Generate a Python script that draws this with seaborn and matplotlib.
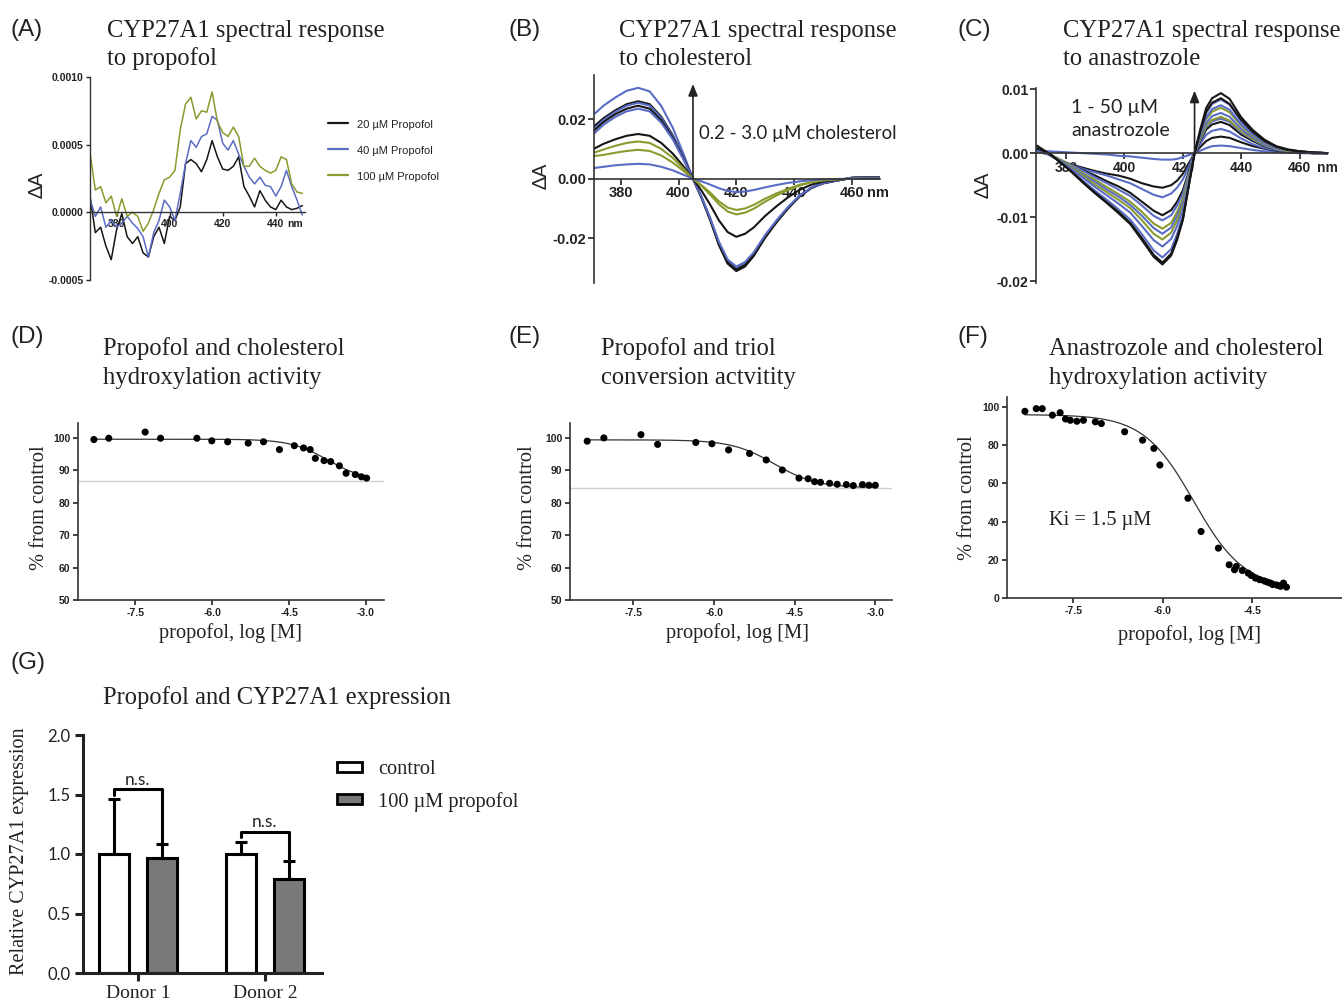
import numpy as np
import pandas as pd
import matplotlib
matplotlib.use("Agg")
import matplotlib.pyplot as plt
from matplotlib.patches import Patch
import seaborn as sns

sns.set_style("ticks")
plt.rcParams["font.family"] = ["Liberation Sans", "DejaVu Sans"]

W, H = 1342, 1006
BLACK = "#161616"
BLUE = "#5a6cc4"
OLIVE = "#8b9a2f"
BAR_GRAY = "#76797c"
TXT = "#222222"
SERIF = ["Liberation Serif", "DejaVu Serif"]
SANS = ["Liberation Sans", "DejaVu Sans"]
HUMAN = ["Lato", "DejaVu Sans"]

# ------------------------------------------------------------------ data
# (A) propofol difference spectra, dA in units of 1e-4
wl_a = list(range(370, 451, 2))
a_labels = ["20 \u00b5M Propofol", "40 \u00b5M Propofol", "100 \u00b5M Propofol"]
a_20 = [1.2, -1.5, -1.1, -2.5, -3.5, -1.3, -0.1, -1.8, -2.3, -1.8, -3.0, -3.3, -1.8, -1.1,
        -2.3, -0.3, -0.6, 0.4, 3.6, 3.9, 3.6, 3.0, 3.9, 5.3, 4.1, 3.2, 3.1, 3.4, 4.1, 1.9,
        1.2, 0.4, 1.6, 0.9, 0.4, 0.2, 0.9, 0.4, 0.2, 0.3, 0.5]
a_40 = [1.0, -0.3, 0.4, -1.1, -0.6, -1.1, -0.8, -0.3, -0.8, -1.2, -1.8, -3.3, -1.5, -0.6,
        0.9, 0.4, -0.6, 1.4, 3.6, 5.3, 4.8, 5.6, 5.8, 7.1, 6.8, 5.1, 4.6, 5.3, 4.3, 3.4,
        2.6, 2.1, 2.6, 2.0, 1.9, 1.2, 1.9, 3.1, 1.9, 0.9, -0.2]
a_100 = [4.4, 1.65, 1.9, 0.7, 1.2, -0.3, 1.0, -0.3, 0.0, -0.3, -1.4, -0.8, 0.2, 1.4,
         2.4, 2.6, 3.1, 6.1, 8.0, 8.5, 6.9, 7.5, 7.4, 8.9, 6.7, 5.9, 5.6, 6.3, 5.6, 3.4,
         3.4, 4.0, 3.4, 3.1, 2.9, 3.1, 4.1, 3.9, 2.1, 1.5, 1.4]

# (B) cholesterol titration spectra
wl_b = [370, 374, 378, 382, 386, 390, 394, 398, 402, 405, 408, 411, 414, 417, 420, 423,
        426, 430, 434, 438, 442, 446, 450, 455, 460, 465, 470]
b1 = [0.0210, 0.0245, 0.0272, 0.0295, 0.0305, 0.0293, 0.0244, 0.0171, 0.0076, 0.0, -0.0064, -0.0137, -0.0220, -0.0281, -0.0305, -0.0290, -0.0256, -0.0195, -0.0143, -0.0098, -0.0058, -0.0031, -0.0015, -0.0006, 0.0003, 0.0005, 0.0005]
b2 = [0.0170, 0.0203, 0.0229, 0.0250, 0.0260, 0.0250, 0.0208, 0.0146, 0.0065, 0.0, -0.0065, -0.0140, -0.0223, -0.0285, -0.0310, -0.0295, -0.0260, -0.0198, -0.0146, -0.0099, -0.0059, -0.0031, -0.0016, -0.0006, 0.0003, 0.0005, 0.0005]
b3 = [0.0160, 0.0197, 0.0224, 0.0245, 0.0255, 0.0245, 0.0204, 0.0143, 0.0064, 0.0, -0.0063, -0.0135, -0.0216, -0.0276, -0.0300, -0.0285, -0.0252, -0.0192, -0.0141, -0.0096, -0.0057, -0.0030, -0.0015, -0.0006, 0.0003, 0.0004, 0.0004]
b4 = [0.0155, 0.0190, 0.0216, 0.0235, 0.0245, 0.0235, 0.0196, 0.0137, 0.0061, 0.0, -0.0064, -0.0137, -0.0220, -0.0281, -0.0305, -0.0290, -0.0256, -0.0195, -0.0143, -0.0098, -0.0058, -0.0031, -0.0015, -0.0006, 0.0003, 0.0005, 0.0005]
b5 = [0.0145, 0.0181, 0.0207, 0.0226, 0.0235, 0.0226, 0.0188, 0.0132, 0.0059, 0.0, -0.0062, -0.0133, -0.0212, -0.0271, -0.0295, -0.0280, -0.0248, -0.0189, -0.0139, -0.0094, -0.0056, -0.0030, -0.0015, -0.0006, 0.0003, 0.0004, 0.0004]
b6 = [0.0097, 0.0117, 0.0132, 0.0144, 0.0150, 0.0144, 0.0120, 0.0084, 0.0038, 0.0, -0.0041, -0.0088, -0.0140, -0.0179, -0.0195, -0.0185, -0.0164, -0.0125, -0.0092, -0.0062, -0.0037, -0.0020, -0.0010, -0.0004, 0.0001, 0.0002, 0.0002]
b7 = [0.0085, 0.0098, 0.0110, 0.0120, 0.0125, 0.0120, 0.0100, 0.0070, 0.0031, 0.0, -0.0025, -0.0054, -0.0086, -0.0110, -0.0120, -0.0114, -0.0101, -0.0077, -0.0056, -0.0038, -0.0023, -0.0012, -0.0006, -0.0002, 0.0, 0.0, 0.0]
b8 = [0.0075, 0.0080, 0.0087, 0.0093, 0.0097, 0.0093, 0.0078, 0.0054, 0.0024, 0.0, -0.0022, -0.0047, -0.0076, -0.0097, -0.0105, -0.0100, -0.0088, -0.0067, -0.0049, -0.0034, -0.0020, -0.0011, -0.0005, -0.0002, 0.0, 0.0, 0.0]
b9 = [0.0035, 0.0040, 0.0045, 0.0048, 0.0050, 0.0048, 0.0040, 0.0028, 0.0012, 0.0, -0.0009, -0.0020, -0.0032, -0.0041, -0.0045, -0.0043, -0.0038, -0.0029, -0.0021, -0.0014, -0.0009, -0.0005, -0.0002, -0.0001, 0.0, 0.0, 0.0]
b_curves = [b1, b2, b3, b4, b5, b6, b7, b8, b9]
b_colors = [BLUE, BLACK, BLUE, BLACK, BLUE, BLACK, OLIVE, OLIVE, BLUE]

# (C) anastrozole titration spectra
wl_c = [370, 374, 378, 382, 386, 390, 394, 398, 402, 406, 410, 413, 416, 418, 420, 422,
        424, 426, 428, 430, 433, 436, 440, 444, 448, 452, 456, 460, 465, 470]
c1 = [0.0004, 0.0003, 0.0002, 0.0001, 0.0, -0.0001, -0.0002, -0.0004, -0.0005, -0.0007, -0.0009, -0.0010, -0.0010, -0.0009, -0.0006, -0.0003, 0.0, 0.0004, 0.0008, 0.0011, 0.0012, 0.0011, 0.0008, 0.0005, 0.0003, 0.0002, 0.0001, 0.0, 0.0, 0.0]
c2 = [0.0003, -0.0002, -0.0012, -0.0018, -0.0023, -0.0028, -0.0032, -0.0035, -0.0040, -0.0047, -0.0052, -0.0054, -0.0050, -0.0043, -0.0032, -0.0016, 0.0, 0.0010, 0.0019, 0.0024, 0.0026, 0.0024, 0.0017, 0.0011, 0.0007, 0.0004, 0.0002, 0.0001, 0.0, 0.0]
c3 = [0.0003, -0.0002, -0.0012, -0.0019, -0.0025, -0.0030, -0.0035, -0.0041, -0.0047, -0.0056, -0.0065, -0.0069, -0.0063, -0.0054, -0.0041, -0.0021, 0.0, 0.0015, 0.0029, 0.0035, 0.0038, 0.0034, 0.0023, 0.0014, 0.0008, 0.0005, 0.0002, 0.0001, 0.0, 0.0]
c4 = [0.0005, 0.0, -0.0011, -0.0019, -0.0027, -0.0035, -0.0044, -0.0052, -0.0062, -0.0076, -0.0090, -0.0097, -0.0089, -0.0076, -0.0058, -0.0029, 0.0, 0.0020, 0.0037, 0.0045, 0.0049, 0.0044, 0.0029, 0.0019, 0.0011, 0.0006, 0.0003, 0.0001, 0.0, 0.0]
c5 = [0.0003, -0.0001, -0.0010, -0.0019, -0.0028, -0.0038, -0.0047, -0.0057, -0.0067, -0.0082, -0.0098, -0.0105, -0.0097, -0.0082, -0.0063, -0.0032, 0.0, 0.0022, 0.0041, 0.0050, 0.0054, 0.0049, 0.0032, 0.0021, 0.0012, 0.0006, 0.0003, 0.0002, 0.0001, 0.0]
c6 = [0.0003, -0.0001, -0.0010, -0.0020, -0.0032, -0.0042, -0.0053, -0.0064, -0.0076, -0.0092, -0.0110, -0.0118, -0.0109, -0.0092, -0.0071, -0.0035, 0.0, 0.0023, 0.0043, 0.0052, 0.0057, 0.0051, 0.0034, 0.0022, 0.0013, 0.0007, 0.0003, 0.0002, 0.0001, 0.0]
c7 = [0.0003, -0.0001, -0.0011, -0.0021, -0.0034, -0.0045, -0.0057, -0.0068, -0.0081, -0.0098, -0.0117, -0.0126, -0.0116, -0.0098, -0.0076, -0.0038, 0.0, 0.0025, 0.0047, 0.0058, 0.0063, 0.0057, 0.0038, 0.0024, 0.0014, 0.0008, 0.0004, 0.0002, 0.0001, 0.0]
c8 = [0.0003, -0.0001, -0.0011, -0.0023, -0.0036, -0.0049, -0.0061, -0.0073, -0.0086, -0.0105, -0.0126, -0.0135, -0.0124, -0.0105, -0.0081, -0.0041, 0.0, 0.0028, 0.0053, 0.0065, 0.0071, 0.0064, 0.0043, 0.0027, 0.0016, 0.0009, 0.0004, 0.0002, 0.0001, 0.0]
c9 = [0.0003, -0.0001, -0.0012, -0.0025, -0.0039, -0.0053, -0.0066, -0.0079, -0.0093, -0.0114, -0.0136, -0.0146, -0.0134, -0.0114, -0.0088, -0.0044, 0.0, 0.0030, 0.0056, 0.0069, 0.0075, 0.0068, 0.0045, 0.0029, 0.0017, 0.0009, 0.0005, 0.0002, 0.0001, 0.0]
c10 = [0.0003, -0.0001, -0.0013, -0.0028, -0.0044, -0.0059, -0.0073, -0.0088, -0.0104, -0.0127, -0.0152, -0.0163, -0.0150, -0.0127, -0.0098, -0.0049, 0.0, 0.0034, 0.0063, 0.0077, 0.0084, 0.0076, 0.0050, 0.0032, 0.0018, 0.0010, 0.0005, 0.0003, 0.0001, 0.0]
c11 = [0.0008, 0.0, -0.0014, -0.0029, -0.0046, -0.0062, -0.0077, -0.0092, -0.0109, -0.0133, -0.0159, -0.0171, -0.0157, -0.0133, -0.0103, -0.0051, 0.0, 0.0034, 0.0065, 0.0079, 0.0086, 0.0077, 0.0052, 0.0033, 0.0019, 0.0010, 0.0005, 0.0003, 0.0001, 0.0]
c12 = [0.0012, 0.0, -0.0014, -0.0030, -0.0047, -0.0063, -0.0078, -0.0094, -0.0111, -0.0136, -0.0162, -0.0174, -0.0160, -0.0136, -0.0104, -0.0052, 0.0, 0.0038, 0.0071, 0.0086, 0.0094, 0.0085, 0.0056, 0.0036, 0.0021, 0.0011, 0.0006, 0.0003, 0.0001, 0.0]
c_curves = [c1, c2, c3, c4, c5, c6, c7, c8, c9, c10, c11, c12]
c_colors = [BLUE, BLACK, BLUE, BLACK, BLUE, OLIVE, BLUE, OLIVE, BLUE, BLUE, BLACK, BLACK]

# (D) propofol vs cholesterol hydroxylation
d_x = [-8.31, -8.02, -7.31, -7.01, -6.30, -6.01, -5.70, -5.30, -5.00, -4.69, -4.40,
       -4.22, -4.09, -3.99, -3.82, -3.69, -3.52, -3.39, -3.21, -3.09, -2.99]
d_y = [99.5, 99.9, 101.8, 99.9, 99.9, 99.1, 98.8, 98.4, 98.8, 96.4, 97.6,
       96.9, 96.4, 93.7, 93.0, 92.7, 91.4, 89.1, 88.7, 88.0, 87.6]
d_fit = [99.6, 86.8, -3.75, 1.2]          # top, bottom, logIC50, Hill slope

# (E) propofol vs triol conversion
e_x = [-8.36, -8.05, -7.36, -7.05, -6.34, -6.04, -5.73, -5.34, -5.03, -4.73, -4.42,
       -4.25, -4.13, -4.02, -3.85, -3.71, -3.54, -3.41, -3.24, -3.12, -3.00]
e_y = [99.0, 100.0, 101.0, 98.0, 98.6, 98.2, 96.3, 95.2, 93.2, 90.1, 87.6,
       87.4, 86.5, 86.3, 86.0, 85.7, 85.6, 85.3, 85.6, 85.4, 85.4]
e_fit = [99.4, 84.6, -4.88, 1.1]

# (F) anastrozole vs cholesterol hydroxylation
f_x = [-8.31, -8.12, -8.02, -7.85, -7.72, -7.63, -7.55, -7.44, -7.33, -7.13, -7.03,
       -6.64, -6.34, -6.15, -6.05, -5.58, -5.36, -5.07, -4.89, -4.80, -4.77, -4.67,
       -4.57, -4.52, -4.45, -4.38, -4.30, -4.25, -4.20, -4.16, -4.08, -4.03, -3.98, -3.93]
f_y = [97.7, 99.1, 99.1, 95.7, 97.0, 93.7, 93.0, 92.5, 93.0, 92.2, 91.3,
       87.0, 82.6, 78.3, 69.6, 52.2, 34.8, 26.1, 17.4, 14.8, 16.5, 14.4,
       13.0, 11.8, 10.4, 9.6, 8.9, 8.3, 7.8, 7.0, 6.6, 6.1, 7.8, 5.7]
f_fit = [96.0, 5.0, -5.48, 1.03]

# (G) CYP27A1 expression
g_donors = ["Donor 1", "Donor 2"]
g_treat = ["control", "100 \u00b5M propofol"]
g_ctrl = [1.0, 1.0]
g_prop = [0.97, 0.79]
g_ctrl_err = [0.46, 0.10]
g_prop_err = [0.11, 0.15]

# ------------------------------------------------------------------ figure
fig = plt.figure(figsize=(W / 100, H / 100), dpi=100)


def rect(l, t, r, b):
    return [l / W, 1 - b / H, (r - l) / W, (b - t) / H]


def ftext(x, y, s, **kw):
    kw.setdefault("color", TXT)
    return fig.text(x / W, 1 - y / H, s, **kw)


def hill(x, p):
    top, bottom, logc, h = p
    return bottom + (top - bottom) / (1 + 10 ** ((x - logc) * h))


def spectral_style(ax, xticks, xlabels, yticks, ylabels, fs, lw, tlen, nm_x):
    for s in ("top", "right"):
        ax.spines[s].set_visible(False)
    ax.spines["bottom"].set_position(("data", 0))
    for s in ("left", "bottom"):
        ax.spines[s].set_linewidth(lw)
        ax.spines[s].set_color("#333333")
    ax.set_xticks(xticks)
    ax.set_xticklabels(xlabels, fontweight="bold", fontsize=fs, family=SANS)
    ax.set_yticks(yticks)
    ax.set_yticklabels(ylabels, fontweight="bold", fontsize=fs, family=SANS)
    ax.tick_params(direction="out", length=tlen, width=lw, pad=1.5, colors=TXT)
    ax.set_axisbelow(True)
    ax.set_xlabel("")
    ax.set_ylabel("")
    ax.annotate("nm", xy=(nm_x, 0), xycoords="data", xytext=(0, -(tlen + 1.5)),
                textcoords="offset points", ha="left", va="top", fontsize=fs,
                fontweight="bold", family=SANS, color=TXT, zorder=0.5)


def dose_style(ax, xlim, ylim, yticks):
    sns.despine(ax=ax)
    ax.set_xlim(*xlim)
    ax.set_ylim(*ylim)
    ax.set_xticks([-7.5, -6.0, -4.5, -3.0])
    ax.set_xticklabels(["-7.5", "-6.0", "-4.5", "-3.0"], fontweight="bold", fontsize=7.5)
    ax.set_yticks(yticks)
    ax.set_yticklabels([str(v) for v in yticks], fontweight="bold", fontsize=7.5)
    ax.tick_params(direction="out", length=3.5, width=1.2, pad=2, colors=TXT)
    for s in ("left", "bottom"):
        ax.spines[s].set_linewidth(1.2)
        ax.spines[s].set_color("#333333")
    ax.set_xlabel("")
    ax.set_ylabel("")


def spectra_frame(wl, curves):
    rows = []
    for i, cv in enumerate(curves):
        for w, v in zip(wl, cv):
            rows.append({"wl": w, "dA": v, "curve": i})
    return pd.DataFrame(rows)


# ---------------- (A)
axA = fig.add_axes(rect(90, 77, 305, 280))
df_a = pd.DataFrame({
    "wl": wl_a * 3,
    "dA": np.array(a_20 + a_40 + a_100) * 1e-4,
    "series": [a_labels[0]] * len(wl_a) + [a_labels[1]] * len(wl_a) + [a_labels[2]] * len(wl_a),
})
sns.lineplot(data=df_a, x="wl", y="dA", hue="series", hue_order=a_labels,
             palette=[BLACK, BLUE, OLIVE], estimator=None, lw=1.1, ax=axA)
axA.set_xlim(370, 451)
axA.set_ylim(-0.0005, 0.0010)
spectral_style(axA, [380, 400, 420, 440], ["380", "400", "420", "440"],
               [-0.0005, 0, 0.0005, 0.0010], ["-0.0005", "0.0000", "0.0005", "0.0010"],
               fs=7.5, lw=1.0, tlen=3, nm_x=444.3)
sns.move_legend(axA, "upper left", bbox_to_anchor=(328 / W, 1 - 118 / H),
                bbox_transform=fig.transFigure, frameon=False, title=None,
                handlelength=1.45, handletextpad=0.65, labelspacing=1.05,
                borderpad=0, borderaxespad=0)
legA = axA.get_legend()
for t in legA.get_texts():
    t.set_family(SANS)
    t.set_fontsize(8)
    t.set_color(TXT)
for ln in legA.get_lines():
    ln.set_linewidth(1.6)

# ---------------- (B)
axB = fig.add_axes(rect(594, 75, 880, 283))
df_b = spectra_frame(wl_b, b_curves)
sns.lineplot(data=df_b, x="wl", y="dA", hue="curve",
             palette={i: c for i, c in enumerate(b_colors)}, estimator=None,
             lw=1.5, legend=False, ax=axB)
axB.set_xlim(370.7, 469.8)
axB.set_ylim(-0.035, 0.0348)
spectral_style(axB, [380, 400, 420, 440, 460], ["380", "400", "420", "440", "460"],
               [-0.02, 0, 0.02], ["-0.02", "0.00", "0.02"],
               fs=10.5, lw=1.2, tlen=4, nm_x=465.3)
axB.annotate("", xy=(405, 0.0318), xytext=(405, 0.0),
             arrowprops=dict(arrowstyle="-|>,head_length=0.7,head_width=0.28",
                             color="#222222", lw=1.2, shrinkA=0, shrinkB=0))

# ---------------- (C)
axC = fig.add_axes(rect(1036, 88, 1328, 283))
df_c = spectra_frame(wl_c, c_curves)
sns.lineplot(data=df_c, x="wl", y="dA", hue="curve",
             palette={i: c for i, c in enumerate(c_colors)}, estimator=None,
             lw=1.5, legend=False, ax=axC)
axC.set_xlim(369.7, 469.7)
axC.set_ylim(-0.0203, 0.0102)
spectral_style(axC, [380, 400, 420, 440, 460], ["380", "400", "420", "440", "460"],
               [-0.02, -0.01, 0, 0.01], ["-0.02", "-0.01", "0.00", "0.01"],
               fs=10.0, lw=1.2, tlen=4, nm_x=466.0)
axC.annotate("", xy=(424, 0.0098), xytext=(424, 0.0),
             arrowprops=dict(arrowstyle="-|>,head_length=0.7,head_width=0.28",
                             color="#222222", lw=1.2, shrinkA=0, shrinkB=0))

# ---------------- (D)
axD = fig.add_axes(rect(78, 423, 384, 600))
axD.axhline(d_fit[1], color="#cfcfcf", lw=1.0, zorder=1)
xd = np.linspace(min(d_x), max(d_x), 200)
sns.lineplot(x=xd, y=hill(xd, d_fit), color="#333333", lw=0.9, ax=axD)
sns.scatterplot(x=d_x, y=d_y, color="black", s=26, edgecolor="none", ax=axD, zorder=3)
dose_style(axD, (-8.62, -2.65), (50, 104.6), [50, 60, 70, 80, 90, 100])

# ---------------- (E)
axE = fig.add_axes(rect(570, 423, 892, 600))
axE.axhline(e_fit[1], color="#cfcfcf", lw=1.0, zorder=1)
xe = np.linspace(min(e_x), max(e_x), 200)
sns.lineplot(x=xe, y=hill(xe, e_fit), color="#333333", lw=0.9, ax=axE)
sns.scatterplot(x=e_x, y=e_y, color="black", s=26, edgecolor="none", ax=axE, zorder=3)
dose_style(axE, (-8.68, -2.69), (50, 104.6), [50, 60, 70, 80, 90, 100])

# ---------------- (F)
axF = fig.add_axes(rect(1007, 397, 1342, 598))
xf = np.linspace(min(f_x), max(f_x), 200)
sns.lineplot(x=xf, y=hill(xf, f_fit), color="#333333", lw=0.9, ax=axF)
sns.scatterplot(x=f_x, y=f_y, color="black", s=26, edgecolor="none", ax=axF, zorder=3)
dose_style(axF, (-8.61, -3.66), (0, 105.2), [0, 20, 40, 60, 80, 100])
axF.set_xticks([-7.5, -6.0, -4.5])
axF.set_xticklabels(["-7.5", "-6.0", "-4.5"], fontweight="bold", fontsize=7.5)

# ---------------- (G)
axG = fig.add_axes(rect(83, 735, 322, 973))
df_g = pd.DataFrame({
    "donor": g_donors * 2,
    "treatment": [g_treat[0]] * 2 + [g_treat[1]] * 2,
    "value": g_ctrl + g_prop,
})
sns.barplot(data=df_g, x="donor", y="value", hue="treatment", hue_order=g_treat,
            palette=["white", BAR_GRAY], edgecolor="black", linewidth=2.2,
            width=0.76, gap=0.38, errorbar=None, legend=False, ax=axG)
bars = sorted([p for p in axG.patches if p.get_height() > 0], key=lambda p: p.get_x())
cx = [p.get_x() + p.get_width() / 2 for p in bars]
hy = [p.get_height() for p in bars]
errs = [g_ctrl_err[0], g_prop_err[0], g_ctrl_err[1], g_prop_err[1]]
axG.errorbar(cx, hy, yerr=[np.zeros(len(errs)), errs], fmt="none", ecolor="black",
             elinewidth=2.2, capsize=4, capthick=2.2, zorder=1)
axG.plot([cx[0], cx[0], cx[1], cx[1]], [1.50, 1.546, 1.546, 1.09], color="black", lw=2.2)
axG.plot([cx[2], cx[2], cx[3], cx[3]], [1.14, 1.182, 1.182, 0.96], color="black", lw=2.2)
axG.text((cx[0] + cx[1]) / 2, 1.625, "n.s.", ha="center", va="center", family=HUMAN,
         fontsize=12.5, color=TXT)
axG.text((cx[2] + cx[3]) / 2, 1.265, "n.s.", ha="center", va="center", family=HUMAN,
         fontsize=12.5, color=TXT)
axG.set_xlim(-0.433, 1.449)
axG.set_ylim(0, 2.0)
axG.set_yticks([0, 0.5, 1.0, 1.5, 2.0])
axG.set_yticklabels(["0.0", "0.5", "1.0", "1.5", "2.0"], family=HUMAN, fontsize=12)
axG.set_xticks([0, 1])
axG.set_xticklabels(g_donors, family=SERIF, fontsize=14)
axG.tick_params(axis="y", direction="out", length=6, width=2.2, pad=3, colors=TXT)
axG.tick_params(axis="x", direction="out", length=6, width=2.2, pad=2.5, colors=TXT)
sns.despine(ax=axG)
for s in ("left", "bottom"):
    axG.spines[s].set_linewidth(2.2)
    axG.spines[s].set_color("#222222")
axG.set_xlabel("")
axG.set_ylabel("")
fig.legend(handles=[Patch(facecolor="white", edgecolor="black", lw=2),
                    Patch(facecolor=BAR_GRAY, edgecolor="black", lw=2)],
           labels=g_treat, loc="upper left", bbox_to_anchor=(337 / W, 1 - 760 / H),
           frameon=False, prop={"family": SERIF, "size": 14.7},
           handlelength=1.2, handleheight=0.4, handletextpad=0.8,
           labelspacing=0.62, borderpad=0, borderaxespad=0, labelcolor=TXT)

# ---------------- texts
for lab, x, y in [("(A)", 10, 30), ("(B)", 508, 30), ("(C)", 958, 30),
                  ("(D)", 10, 337), ("(E)", 508, 337), ("(F)", 958, 337),
                  ("(G)", 10, 663)]:
    ftext(x, y, lab, fontsize=17.5, family=SANS, va="center", ha="left")

titles = [
    (107, 36.5, "CYP27A1 spectral response"), (107, 65, "to propofol"),
    (619, 36.5, "CYP27A1 spectral response"), (619, 65, "to cholesterol"),
    (1063, 36.5, "CYP27A1 spectral response"), (1063, 65, "to anastrozole"),
    (103, 355, "Propofol and cholesterol"), (103, 384, "hydroxylation activity"),
    (601, 355, "Propofol and triol"), (601, 384, "conversion actvitity"),
    (1049, 355, "Anastrozole and cholesterol"), (1049, 384, "hydroxylation activity"),
    (103, 704, "Propofol and CYP27A1 expression"),
]
for x, y, s in titles:
    ftext(x, y, s, fontsize=17.7, family=SERIF, va="baseline", ha="left")

for x, y in [(37, 185), (541, 176), (983, 185)]:
    ftext(x, y, "\u0394A", fontsize=14, family=HUMAN, rotation=90, ha="center", va="center")

ftext(699, 134, "0.2 - 3.0 \u00b5M cholesterol", fontsize=13.4, family=HUMAN, ha="left", va="center")
ftext(1071, 107, "1 - 50 \u00b5M", fontsize=14, family=HUMAN, ha="left", va="center")
ftext(1071, 131, "anastrozole", fontsize=14, family=HUMAN, ha="left", va="center")

for x, y in [(40, 508), (528, 508), (967, 498)]:
    ftext(x, y, "% from control", fontsize=14.7, family=SERIF, rotation=90,
          ha="center", va="center")
for x, y in [(230, 633), (737, 633), (1189, 635)]:
    ftext(x, y, "propofol, log [M]", fontsize=14.7, family=SERIF, ha="center", va="center")
ftext(1049, 520, "Ki = 1.5 \u00b5M", fontsize=14.7, family=SERIF, ha="left", va="center")
ftext(20, 851, "Relative CYP27A1 expression", fontsize=14.5, family=SERIF, rotation=90,
      ha="center", va="center")

fig.savefig("out.png", dpi=100, facecolor="white")
